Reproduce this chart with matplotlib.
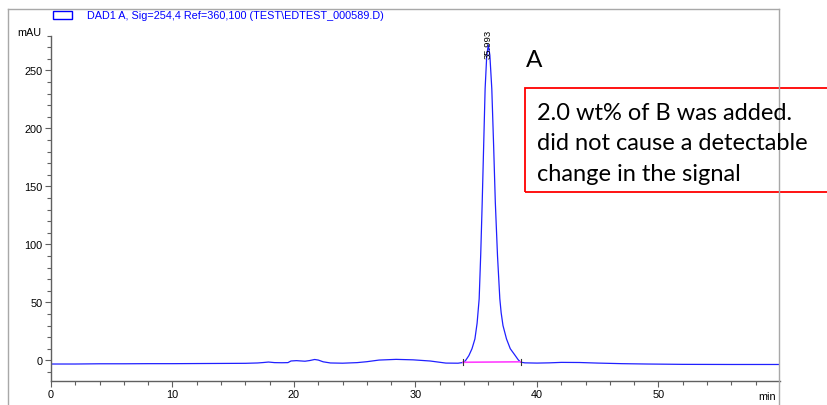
import matplotlib
matplotlib.use("Agg")
import matplotlib.pyplot as plt
from matplotlib.lines import Line2D
from matplotlib.patches import Rectangle
from matplotlib.ticker import FixedLocator

# chromatogram trace (time in min, signal in mAU)
time_min = [0.0, 2.0, 4.0, 6.0, 8.0, 10.0, 12.0, 14.0, 16.0, 17.0, 17.5, 17.9,
            18.4, 19.0, 19.5, 19.75, 20.2, 20.9, 21.3, 21.7, 22.0, 22.4, 23.0,
            24.0, 25.2, 26.0, 27.0, 28.4, 29.8, 31.2, 32.5, 33.5, 33.9, 34.1,
            34.39, 34.65, 34.89, 35.07, 35.24, 35.37, 35.49, 35.61, 35.73,
            35.86, 35.99, 36.12, 36.28, 36.43, 36.57, 36.75, 36.94, 37.05,
            37.2, 37.49, 37.8, 38.18, 38.45, 38.65, 39.0, 40.0, 41.0, 42.0,
            43.5, 45.0, 47.0, 49.0, 52.0, 56.0, 60.0]
signal_mau = [-3.2, -3.2, -3.0, -3.0, -2.9, -2.9, -2.8, -2.7, -2.6, -2.3, -1.9, -1.5,
              -2.0, -2.1, -2.0, -0.6, -0.3, -0.8, -0.2, 0.7, 0.2, -1.3, -2.3,
              -2.5, -2.0, -1.2, 0.2, 0.8, 0.4, -0.6, -2.4, -2.5, -1.9, -0.5,
              4.0, 10.0, 18.4, 32.0, 53.0, 92.0, 136.0, 185.0, 234.0,
              262.0, 272.0, 263.0, 234.0, 185.0, 136.0, 90.0, 53.0, 41.0,
              30.0, 18.4, 10.0, 4.5, 0.5, -1.6, -2.2, -2.4, -2.2, -1.8,
              -1.9, -2.4, -2.9, -3.2, -3.5, -3.6, -3.6]

# integration baseline of the peak
peak_rt = 35.993
base_t = [33.9, 38.65]
base_y = [-1.7, -1.3]

legend_label = "DAD1 A, Sig=254,4 Ref=360,100 (TEST\\EDTEST_000589.D)"
note_lines = ["2.0 wt% of B was added.",
              "did not cause a detectable",
              "change in the signal"]

W, H = 828, 406
fig = plt.figure(figsize=(W / 100, H / 100), dpi=100)

def fx(px):
    return px / W

def fy(py):
    return 1 - py / H

ax = fig.add_axes([fx(51), fy(381.6), fx(780) - fx(51), fy(36.5) - fy(381.6)])
ax.plot(time_min, signal_mau, color="#2020ff", lw=0.9)
ax.plot(base_t, base_y, color="#ff40ff", lw=1.2)
for bt, by in zip(base_t, base_y):
    ax.plot([bt, bt], [by - 2.5, by + 2.5], color="#333333", lw=0.8)

ax.text(peak_rt, 261, f"{peak_rt:.3f}", rotation=90, ha="center", va="bottom",
        fontsize=6.8, family="Liberation Sans")

ax.set_xlim(0, 60)
ax.set_ylim(-17.5, 280)
ax.spines["top"].set_visible(False)
ax.spines["right"].set_visible(False)
for s in ("left", "bottom"):
    ax.spines[s].set_color("#606060")
    ax.spines[s].set_linewidth(1.0)

ax.xaxis.set_major_locator(FixedLocator([0, 10, 20, 30, 40, 50]))
ax.xaxis.set_minor_locator(FixedLocator([x for x in range(2, 60, 2) if x % 10]))
ax.yaxis.set_major_locator(FixedLocator([0, 50, 100, 150, 200, 250]))
ax.yaxis.set_minor_locator(FixedLocator([y for y in range(-10, 281, 10) if y % 50]))
ax.tick_params(which="major", length=4, width=0.8, color="#606060", labelsize=7.8, pad=2)
ax.tick_params(which="minor", length=3, width=0.8, color="#606060")
for lab in ax.get_xticklabels() + ax.get_yticklabels():
    lab.set_family("Liberation Sans")

fig.text(fx(29), fy(33), "mAU", ha="center", va="center", fontsize=7.8, family="Liberation Sans")
fig.text(fx(767), fy(397), "min", ha="center", va="center", fontsize=7.8, family="Liberation Sans")

# outer frame
frame = "#a8a8a8"
fig.add_artist(Line2D([fx(8), fx(779)], [fy(10), fy(10)], color=frame, lw=1))
fig.add_artist(Line2D([fx(8), fx(8)], [fy(10), fy(406)], color=frame, lw=1))
fig.add_artist(Line2D([fx(779), fx(779)], [fy(10), fy(406)], color=frame, lw=1))

# legend entry
fig.add_artist(Rectangle((fx(53), fy(20)), fx(72) - fx(53), fy(11.5) - fy(20),
                         fill=False, edgecolor="blue", lw=1))
fig.text(fx(87), fy(16), legend_label, ha="left", va="center", fontsize=7.8,
         color="blue", family="Liberation Sans")

# annotation
fig.text(fx(526), fy(67), "A", ha="left", va="baseline", fontsize=17.5, family="Lato")
fig.add_artist(Rectangle((fx(525.3), fy(192.7)), 1.0, fy(88.7) - fy(192.7),
                         fill=False, edgecolor="red", lw=1.3))
for i, line in enumerate(note_lines):
    fig.text(fx(537), fy(120 + 30.5 * i), line, ha="left", va="baseline",
             fontsize=17, family="Lato")

fig.savefig("out.png", dpi=100)
